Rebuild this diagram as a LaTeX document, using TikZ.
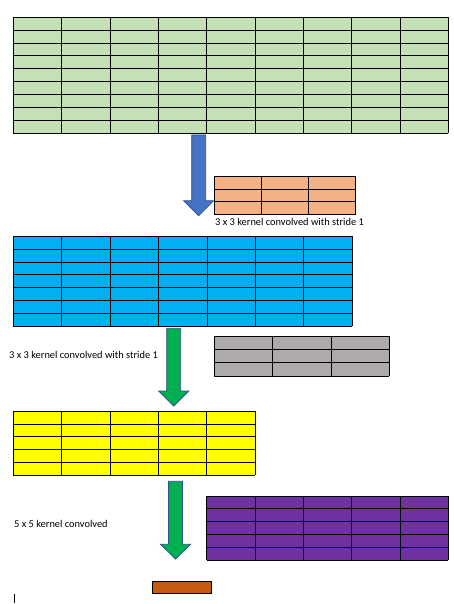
\documentclass[tikz,border=0pt]{standalone}
\usepackage{fontspec}
\setmainfont{Carlito}
\definecolor{inmap}{HTML}{C5E0B4}
\definecolor{kernA}{HTML}{F4B183}
\definecolor{mapA}{HTML}{00B0F0}
\definecolor{kernB}{HTML}{AEAAAA}
\definecolor{mapB}{HTML}{FFFF00}
\definecolor{kernC}{HTML}{7030A0}
\definecolor{outmap}{HTML}{C55A11}
\definecolor{arrblue}{HTML}{4472C4}
\definecolor{arrgreen}{HTML}{00B050}
\definecolor{arredge}{HTML}{2F528F}
\tikzset{gridline/.style={draw=black, line width=0.9pt},
  lbl/.style={font=\fontsize{10.4}{12}\selectfont, anchor=base west, inner sep=0pt}}
% x0, y0, x1, y1, columns, rows, fill
\newcommand{\featmap}[7]{%
  \fill[#7] (#1,#2) rectangle (#3,#4);
  \foreach \c in {0,...,#5}{
    \draw[gridline] ({#1+(#3-#1)*\c/#5},#2) -- ({#1+(#3-#1)*\c/#5},#4);}
  \foreach \r in {0,...,#6}{
    \draw[gridline] (#1,{#2+(#4-#2)*\r/#6}) -- (#3,{#2+(#4-#2)*\r/#6});}}
% centre x, top, head base, tip, fill
\newcommand{\blockarrow}[5]{%
  \filldraw[fill=#5, draw=arredge, line width=0.8pt, line join=miter]
    (#1-7,#2) -- (#1+7,#2) -- (#1+7,#3) -- (#1+15,#3) -- (#1,#4)
    -- (#1-15,#3) -- (#1-7,#3) -- cycle;}

\begin{document}
\begin{tikzpicture}[x=1pt,y=-1pt]
  \useasboundingbox (0,0) rectangle (453,604);
  % input and kernels
  \featmap{13.3}{17.3}{448.3}{133}{9}{9}{inmap}
  \blockarrow{198.7}{135}{200.7}{215.7}{arrblue}
  \featmap{214.3}{176.7}{355.7}{214}{3}{3}{kernA}
  \node[lbl] (lblA) at (215,225) {3 x 3 kernel convolved with stride 1};
  \featmap{13.3}{236.3}{352.3}{326.3}{7}{7}{mapA}
  \blockarrow{173.7}{328.3}{391}{406}{arrgreen}
  \featmap{214.3}{336}{389.3}{376.3}{3}{3}{kernB}
  \node[lbl] (lblB) at (9,358.3) {3 x 3 kernel convolved with stride 1};
  \featmap{13.3}{411.3}{255.3}{475.3}{5}{5}{mapB}
  \blockarrow{175.5}{481.3}{544.3}{559}{arrgreen}
  \featmap{206.7}{496}{448.3}{560.3}{5}{5}{kernC}
  \node[lbl] (lblC) at (14,527.7) {5 x 5 kernel convolved};
  % output
  \filldraw[gridline, fill=outmap] (152.3,581) rectangle (211.7,593.7);
  \draw[black, line width=0.7pt] (14,594.3) -- (14,602.7);
\end{tikzpicture}
\end{document}
